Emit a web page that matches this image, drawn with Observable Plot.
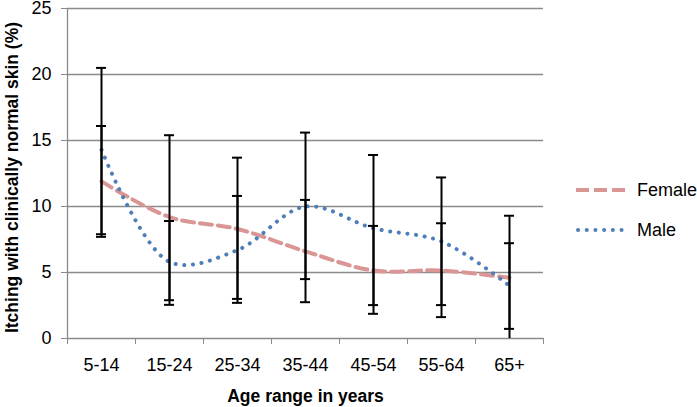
<!DOCTYPE html>
<html>
<head>
<meta charset="utf-8">
<script src="https://cdn.jsdelivr.net/npm/d3@7"></script>
<script src="https://cdn.jsdelivr.net/npm/@observablehq/plot@0.6"></script>
<style>
  html, body { margin: 0; padding: 0; background: #fff; }
  #wrap { position: relative; width: 697px; height: 407px; font-family: "Liberation Sans", Arial, sans-serif; }
  #legend { position: absolute; left: 576px; top: 170px; font-size: 18px; color: #000; }
  .item { display: flex; align-items: center; height: 40px; }
  .item svg { margin-right: 12px; }
</style>
</head>
<body>
<div id="wrap"></div>
<script>
const ageGroups = ["5-14", "15-24", "25-34", "35-44", "45-54", "55-64", "65+"];
const female = [11.9, 9.2, 8.3, 6.6, 5.15, 5.15, 4.6];
const male = [14.3, 5.8, 6.7, 10.0, 8.35, 7.35, 4.0];
const femaleLow = [7.7, 2.9, 3.0, 2.75, 1.87, 1.62, 0.73];
const femaleHigh = [16.1, 15.4, 13.7, 10.5, 8.53, 8.73, 7.22];
const maleLow = [7.9, 2.55, 2.7, 4.5, 2.53, 2.53, -1.2];
const maleHigh = [20.5, 8.9, 10.8, 15.6, 13.9, 12.2, 9.3];
const yTicks = [0, 5, 10, 15, 20, 25];

const femaleRows = ageGroups.map((g, i) => ({i, v: female[i]}));
const maleRows = ageGroups.map((g, i) => ({i, v: male[i]}));
const errRows = ageGroups.flatMap((g, i) => [
  {i, low: femaleLow[i], high: femaleHigh[i]},
  {i, low: maleLow[i], high: maleHigh[i]}
]);
const boundaries = d3.range(ageGroups.length + 1).map(k => k - 0.5);
const capHalf = 0.074;
const gray = "#8a8a8a";

const chart = Plot.plot({
  width: 697,
  height: 407,
  marginLeft: 67,
  marginRight: 154,
  marginTop: 8,
  marginBottom: 69,
  style: {fontFamily: "'Liberation Sans', Arial, sans-serif", fontSize: "18px", color: "#000", background: "#fff"},
  x: {type: "linear", domain: [-0.5, ageGroups.length - 0.5], axis: null},
  y: {domain: [0, 25], axis: null},
  marks: [
    Plot.gridY(yTicks.filter(t => t > 0), {stroke: gray, strokeOpacity: 1, strokeWidth: 1.3}),
    Plot.ruleX([-0.5], {y1: 0, y2: 25, stroke: gray, strokeWidth: 1.3}),
    Plot.ruleY([0], {stroke: gray, strokeWidth: 1.3}),
    Plot.axisY({ticks: yTicks, tickSize: 6, tickPadding: 10, stroke: gray, strokeOpacity: 1, fontSize: 18, label: null}),
    Plot.axisX({ticks: boundaries, tickFormat: () => "", tickSize: 6, stroke: gray, strokeOpacity: 1, label: null}),
    Plot.axisX({ticks: d3.range(ageGroups.length), tickFormat: i => ageGroups[i], tickSize: 0, tickPadding: 20, fontSize: 18, label: null}),
    Plot.line(femaleRows, {x: "i", y: "v", curve: "catmull-rom", stroke: "#d99694", strokeWidth: 4, strokeDasharray: "12 6"}),
    Plot.line(maleRows, {x: "i", y: "v", curve: "catmull-rom", stroke: "#4f7fb8", strokeWidth: 4, strokeDasharray: "0.1 8.6", strokeLinecap: "round"}),
    Plot.ruleX(errRows, {x: "i", y1: "low", y2: "high", stroke: "#000", strokeWidth: 2, clip: true}),
    Plot.ruleY(errRows, {x1: d => d.i - capHalf, x2: d => d.i + capHalf, y: "low", stroke: "#000", strokeWidth: 2, clip: true}),
    Plot.ruleY(errRows, {x1: d => d.i - capHalf, x2: d => d.i + capHalf, y: "high", stroke: "#000", strokeWidth: 2, clip: true}),
    Plot.text(["Itching with clinically normal skin (%)"], {frameAnchor: "left", textAnchor: "middle", lineAnchor: "middle", rotate: -90, dx: -55, dy: 4, fontWeight: "bold", fontSize: 17.5}),
    Plot.text(["Age range in years"], {frameAnchor: "bottom", lineAnchor: "middle", dy: 58, fontWeight: "bold", fontSize: 17.5})
  ]
});
const wrap = document.getElementById("wrap");
wrap.appendChild(chart);

const legend = document.createElement("div");
legend.id = "legend";
legend.innerHTML = `
  <div class="item"><svg width="49" height="8"><line x1="0" y1="4" x2="49" y2="4" stroke="#d99694" stroke-width="4" stroke-dasharray="13 5"/></svg>Female</div>
  <div class="item"><svg width="49" height="8"><line x1="2" y1="4" x2="49" y2="4" stroke="#4f7fb8" stroke-width="4" stroke-linecap="round" stroke-dasharray="0.1 8.6"/></svg>Male</div>`;
wrap.appendChild(legend);
</script>
</body>
</html>
